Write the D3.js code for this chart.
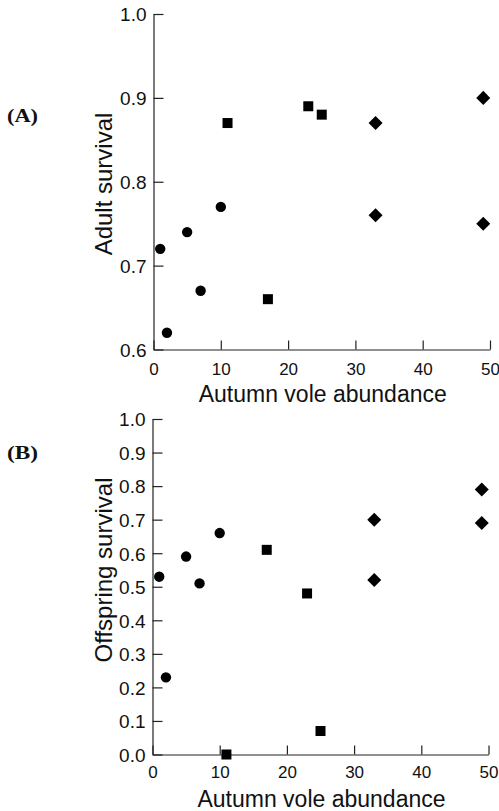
<!DOCTYPE html>
<html>
  <head>
    <meta charset="utf-8">
    <script src="https://d3js.org/d3.v7.min.js"></script>
    <style>
      body { margin: 0; background: #fff; }
      svg { display: block; }
      .axis path, .axis line { stroke: #222; stroke-width: 1.2; }
      .axis text { font-family: "Liberation Sans", Arial, sans-serif; fill: #111; }
      .title { font-family: "Liberation Sans", Arial, sans-serif; fill: #111; }
      .panel { font-family: "Liberation Serif", "Times New Roman", serif; font-weight: bold; fill: #111; }
    </style>
  </head>
  <body>
    <script>
      // autumn vole abundance for each group of years
      var circleX = [1, 2, 5, 7, 10];
      var squareX = [11, 17, 23, 25];
      var diamondX = [33, 33, 49, 49];

      // (A) adult survival
      var adultCircle = [0.72, 0.62, 0.74, 0.67, 0.77];
      var adultSquare = [0.87, 0.66, 0.89, 0.88];
      var adultDiamond = [0.87, 0.76, 0.90, 0.75];

      // (B) offspring survival
      var offCircle = [0.53, 0.23, 0.59, 0.51, 0.66];
      var offSquare = [0.00, 0.61, 0.48, 0.07];
      var offDiamond = [0.70, 0.52, 0.79, 0.69];

      var xTicks = [0, 10, 20, 30, 40, 50];
      var yTicksA = [0.6, 0.7, 0.8, 0.9, 1.0];
      var yTicksB = [0, 0.1, 0.2, 0.3, 0.4, 0.5, 0.6, 0.7, 0.8, 0.9, 1.0];

      var svg = d3.select("body").append("svg")
          .attr("width", 499)
          .attr("height", 811);

      function zip(xs, ys) {
        return xs.map(function (x, i) { return {x: x, y: ys[i]}; });
      }

      function panel(opt) {
        var x = d3.scaleLinear().domain([0, 50]).range([opt.left, opt.right]);
        var y = d3.scaleLinear().domain(opt.yDomain).range([opt.bottom, opt.top]);
        var g = svg.append("g");

        g.append("g")
            .attr("class", "axis")
            .attr("transform", "translate(0," + opt.bottom + ")")
            .call(d3.axisBottom(x).tickValues(xTicks).tickFormat(d3.format("d"))
                .tickSizeInner(-9).tickSizeOuter(0).tickPadding(opt.xPad))
            .call(function (a) { a.selectAll("text").style("font-size", "17px"); });

        g.append("g")
            .attr("class", "axis")
            .attr("transform", "translate(" + opt.left + ",0)")
            .call(d3.axisLeft(y).tickValues(opt.yTicks).tickFormat(d3.format(".1f"))
                .tickSizeInner(-10).tickSizeOuter(0).tickPadding(7))
            .call(function (a) {
              a.selectAll("text").style("font-size", "19px").attr("dy", "0.36em");
            });

        g.append("text")
            .attr("class", "title")
            .attr("x", (opt.left + opt.right) / 2 + 1)
            .attr("y", opt.xTitleY)
            .attr("text-anchor", "middle")
            .style("font-size", "23px")
            .text("Autumn vole abundance");

        g.append("text")
            .attr("class", "title")
            .attr("transform", "translate(112," + opt.yTitleMid + ") rotate(-90)")
            .attr("text-anchor", "middle")
            .style("font-size", "24px")
            .text(opt.yTitle);

        g.append("text")
            .attr("class", "panel")
            .attr("x", 7)
            .attr("y", opt.labelY)
            .attr("textLength", 31)
            .attr("lengthAdjust", "spacingAndGlyphs")
            .style("font-size", "18px")
            .text(opt.label);

        g.selectAll(".circ").data(zip(circleX, opt.circ)).enter()
          .append("circle")
            .attr("cx", function (d) { return x(d.x); })
            .attr("cy", function (d) { return y(d.y); })
            .attr("r", 5.2)
            .attr("fill", "#000");

        g.selectAll(".sq").data(zip(squareX, opt.sq)).enter()
          .append("rect")
            .attr("x", function (d) { return x(d.x) - 5; })
            .attr("y", function (d) { return y(d.y) - 5; })
            .attr("width", 10)
            .attr("height", 10)
            .attr("fill", "#000");

        var diamond = d3.symbol().type(d3.symbolDiamond2).size(125);
        g.selectAll(".dia").data(zip(diamondX, opt.dia)).enter()
          .append("path")
            .attr("d", diamond)
            .attr("transform", function (d) { return "translate(" + x(d.x) + "," + y(d.y) + ")"; })
            .attr("fill", "#000");
      }

      panel({
        left: 153.5, right: 490, top: 14, bottom: 349.5,
        yDomain: [0.6, 1.0], yTicks: yTicksA, xPad: 13,
        xTitleY: 401.5, yTitle: "Adult survival", yTitleMid: 184,
        label: "(A)", labelY: 122,
        circ: adultCircle, sq: adultSquare, dia: adultDiamond
      });

      panel({
        left: 152.5, right: 488.5, top: 419, bottom: 754.5,
        yDomain: [0, 1.0], yTicks: yTicksB, xPad: 11,
        xTitleY: 807, yTitle: "Offspring survival", yTitleMid: 570,
        label: "(B)", labelY: 459,
        circ: offCircle, sq: offSquare, dia: offDiamond
      });
    </script>
  </body>
</html>
